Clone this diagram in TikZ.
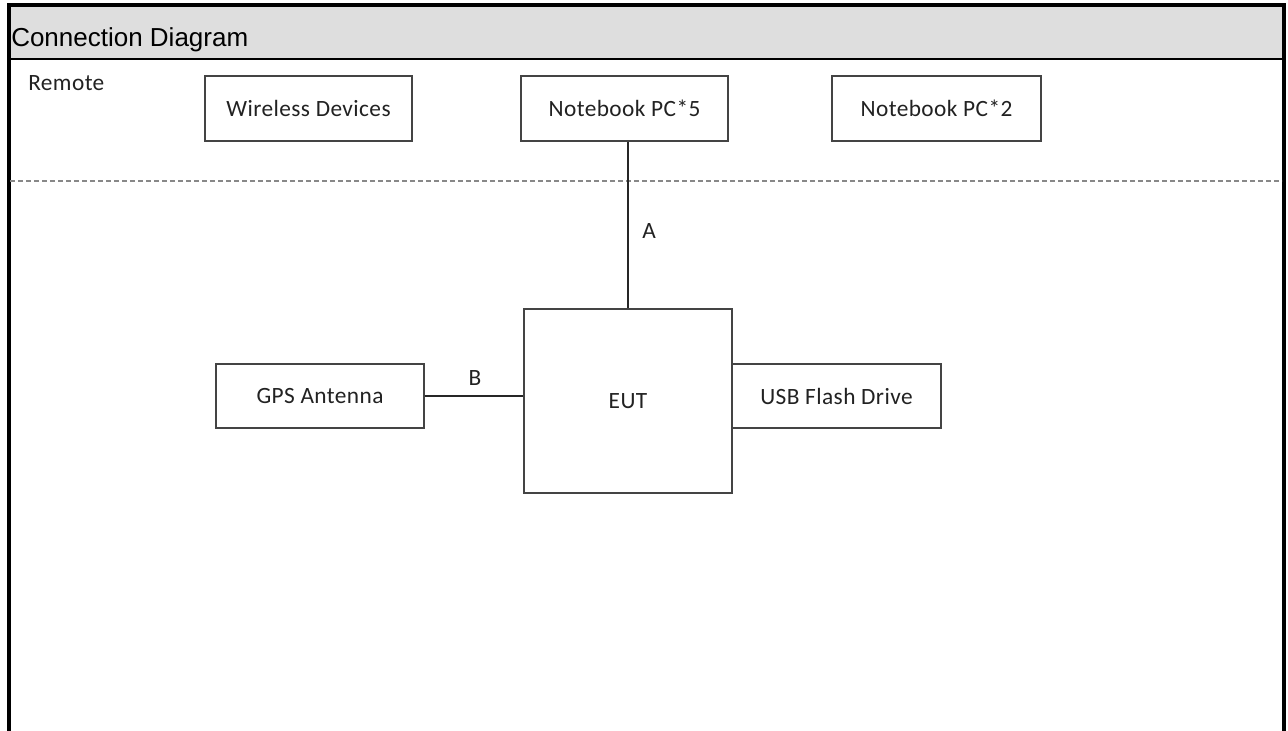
\documentclass[tikz,border=0pt]{standalone}
\usepackage{fontspec}
\setmainfont[LetterSpace=1.8]{Carlito}
\newfontfamily\arialfont{Liberation Sans}
\definecolor{boxline}{HTML}{444444}
\definecolor{txt}{HTML}{222222}
\definecolor{hdr}{HTML}{DEDEDE}
\definecolor{dashcol}{HTML}{888888}
\begin{document}
\begin{tikzpicture}[x=0.75pt,y=-0.75pt,
  devbox/.style={draw=boxline,line width=1.1pt,fill=white,text=txt,font=\fontsize{17.5}{20}\selectfont,inner sep=0pt},
  conn/.style={draw=black!85,line width=0.9pt},
  lbl/.style={text=txt,font=\fontsize{17.5}{20}\selectfont,inner sep=0pt}]
\useasboundingbox (0,0) rectangle (1288,731);
\fill[white] (0,0) rectangle (1288,731);
% header
\fill[hdr] (9,5) rectangle (1284,59);
\draw[black,line width=1.6pt] (9,59) -- (1284,59);
\node[anchor=base west,inner sep=0pt,font=\arialfont\fontsize{19.5}{22}\selectfont] (title) at (11,47) {Connection Diagram};
% frame
\draw[black,line width=2.3pt] (9,731) -- (9,5) -- (1284,5) -- (1284,731);
% remote label
\node[lbl,anchor=base west] (remote) at (28,91) {Remote};
% dashed separator
\coordinate (dl) at (10,181);
\coordinate (dr) at (1282,181);
\draw[dashcol,line width=0.8pt,dash pattern=on 4pt off 2pt] (dl) -- (dr);
% boxes
\node[devbox,minimum width=155.25pt,minimum height=48.75pt] (wd) at (308.5,108.5) {Wireless Devices};
\node[devbox,minimum width=155.25pt,minimum height=48.75pt] (nb5) at (624.5,108.5) {Notebook PC*5};
\node[devbox,minimum width=156.75pt,minimum height=48.75pt] (nb2) at (936.5,108.5) {Notebook PC*2};
\node[devbox,minimum width=156pt,minimum height=138pt] (eut) at (628,401) {EUT};
\node[devbox,minimum width=156pt,minimum height=48pt] (gps) at (320,396) {GPS Antenna};
\node[devbox,minimum width=156.75pt,minimum height=48pt] (usb) at (836.5,396) {USB Flash Drive};
% connectors
\draw[conn] (eut.north) -- (eut.north |- nb5.south);
\draw[conn] (gps.east) -- (gps.east -| eut.west);
\node[lbl] (la) at (649,231) {A};
\node[lbl] (lb) at (475,378) {B};
\end{tikzpicture}
\end{document}
